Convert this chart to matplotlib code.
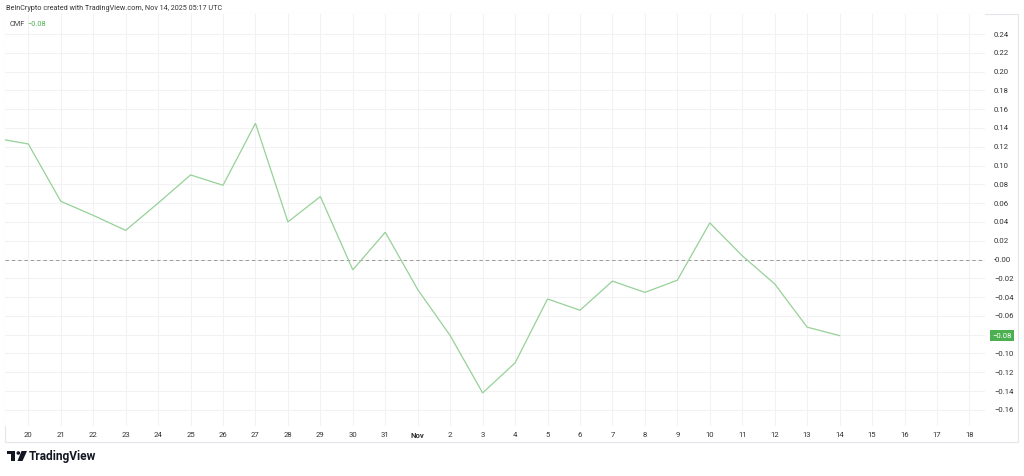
import matplotlib
matplotlib.use("Agg")
import matplotlib.pyplot as plt
import matplotlib.transforms as mtransforms
from matplotlib.patches import Rectangle, Polygon, Circle
import pandas as pd
import numpy as np

plt.rcParams['font.family'] = ['Roboto', 'DejaVu Sans']

# ---- data ----
dates = pd.date_range("2025-10-19", "2025-11-14", freq="D")
cmf = [0.129, 0.123, 0.062, 0.047, 0.031, 0.060, 0.090, 0.079, 0.145, 0.040,
       0.067, -0.011, 0.029, -0.032, -0.081, -0.142, -0.110, -0.042, -0.054,
       -0.023, -0.035, -0.022, 0.039, 0.004, -0.026, -0.072, -0.081]
tick_dates = pd.date_range("2025-10-20", "2025-11-18", freq="D")
tick_labels = [str(d.day) if d.day != 1 else "Nov" for d in tick_dates]
y_ticks = [round(v, 2) for v in np.arange(-0.16, 0.2401, 0.02)]
header = "BeInCrypto created with TradingView.com, Nov 14, 2025 05:17 UTC"
indicator = "CMF"

W, H = 1024, 476
fig = plt.figure(figsize=(W / 100, H / 100), dpi=100)
fig.patch.set_facecolor("white")

# pane geometry (pixels)
L, R, T, B = 5, 985, 14, 426
ax = fig.add_axes([L / W, 1 - B / H, (R - L) / W, (B - T) / H])

ax.plot(dates, cmf, color="#96d197", lw=0.9, zorder=3, solid_joinstyle="miter")
ax.axhline(0, color="#9a9a9a", lw=0.7, ls=(0, (3.5, 3)), zorder=2)

x0 = pd.Timestamp("2025-10-20") - pd.Timedelta(days=0.718)
x1 = pd.Timestamp("2025-10-20") + pd.Timedelta(days=29.48)
ax.set_xlim(x0, x1)
ax.set_ylim(-0.1772, 0.2613)

fs = 5.6
ax.set_xticks(tick_dates)
ax.set_xticklabels(tick_labels)
for lbl, t in zip(ax.get_xticklabels(), tick_labels):
    if t == "Nov":
        lbl.set_fontweight("bold")
ax.set_yticks(y_ticks)
ax.set_yticklabels([("\u2212%.2f" % abs(v)) if v < 0 else "%.2f" % v for v in y_ticks])
ax.yaxis.tick_right()
ax.tick_params(axis="y", length=0, pad=6.5, labelsize=fs, labelcolor="#333333")
ax.tick_params(axis="x", length=0, pad=4.5, labelsize=fs, labelcolor="#333333")
ax.grid(True, color="#f2f2f4", lw=0.8, zorder=0)
for s in ax.spines.values():
    s.set_visible(False)

# last value badge
last = cmf[-1]
trans = mtransforms.blended_transform_factory(ax.transAxes, ax.transData)
ax.text(1.0 + 7.5 / (R - L), last, "\u2212%.2f" % abs(last) if last < 0 else "%.2f" % last,
        transform=trans, ha="left", va="center", fontsize=fs, color="white",
        zorder=10, clip_on=False,
        bbox=dict(boxstyle="square,pad=0.3", fc="#4caf50", ec="none"))

# overlay in pixel coords
ov = fig.add_axes([0, 0, 1, 1], zorder=-1)
ov.set_xlim(0, W)
ov.set_ylim(H, 0)
ov.axis("off")
ov.add_patch(Rectangle((5, 14), 1013, 428, fill=False, ec="#e3e5ea", lw=0.8))

fig.text(6 / W, 1 - 8 / H, header, fontsize=5.2, color="#333333", va="center", ha="left")
fig.text(10 / W, 1 - 24 / H, indicator, fontsize=5.3, color="#444444", va="center", ha="left")
fig.text(27 / W, 1 - 24 / H, "\u2212%.2f" % abs(last), fontsize=5.3, color="#4caf50",
         va="center", ha="left")

# TradingView logo
ov2 = fig.add_axes([0, 0, 1, 1], zorder=5)
ov2.set_xlim(0, W)
ov2.set_ylim(H, 0)
ov2.axis("off")
ov2.add_patch(Rectangle((7, 451), 8, 3.2, fc="#131722", ec="none"))
ov2.add_patch(Rectangle((11, 451), 4, 10, fc="#131722", ec="none"))
ov2.add_patch(Circle((18.3, 453), 1.8, fc="#131722", ec="none"))
ov2.add_patch(Polygon([(21.5, 451), (27, 451), (22.5, 461), (17.5, 461)], closed=True,
                      fc="#131722", ec="none"))
fig.text(29 / W, 1 - 456.5 / H, "TradingView", fontsize=8.6, fontweight="bold",
         color="#131722", va="center", ha="left")

fig.savefig("out.png", dpi=100, facecolor="white")
